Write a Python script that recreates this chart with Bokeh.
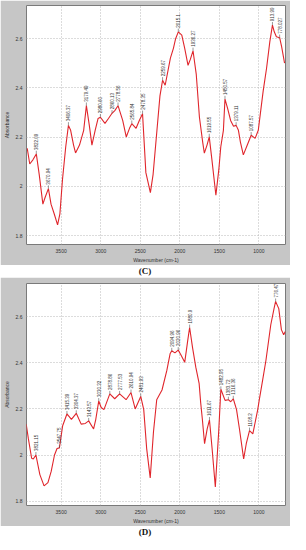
import math
from bokeh.plotting import figure
from bokeh.models import Range1d, FixedTicker, CustomJSTickFormatter, Div
from bokeh.layouts import column
from bokeh.embed import file_html
from bokeh.resources import INLINE
from bokeh.core.properties import value

# ---------------- data ----------------
x_ticks = [3500, 3000, 2500, 2000, 1500, 1000]
y_ticks = [1.8, 2.0, 2.2, 2.4, 2.6]

# Panel (C) spectrum
c_wn = [3929, 3897, 3857, 3814, 3777, 3731, 3702, 3661, 3628, 3587,
        3545, 3516, 3483, 3442, 3408, 3380, 3343, 3318, 3268, 3215,
        3181, 3144, 3111, 3070, 3033, 3004, 2946, 2902, 2857, 2822,
        2781, 2722, 2677, 2636, 2607, 2553, 2512, 2471, 2429, 2372,
        2338, 2289, 2251, 2218, 2185, 2119, 2081, 2053, 2019, 1975,
        1938, 1896, 1867, 1833, 1792, 1752, 1709, 1690, 1656, 1628,
        1594, 1544, 1507, 1482, 1449, 1429, 1395, 1358, 1321, 1288,
        1259, 1234, 1197, 1147, 1098, 1048, 1008, 974, 946, 903,
        862, 829, 806, 779, 738, 713, 676]
c_abs = [2.155, 2.091, 2.108, 2.132, 2.048, 1.928, 1.956, 1.991, 1.928, 1.888,
         1.844, 1.888, 2.028, 2.161, 2.248, 2.228, 2.168, 2.136, 2.168, 2.228,
         2.328, 2.248, 2.168, 2.228, 2.276, 2.281, 2.256, 2.276, 2.297, 2.308,
         2.328, 2.268, 2.201, 2.236, 2.255, 2.236, 2.268, 2.295, 2.056, 1.975,
         2.048, 2.228, 2.368, 2.431, 2.411, 2.521, 2.561, 2.600, 2.628, 2.615,
         2.561, 2.492, 2.516, 2.551, 2.455, 2.281, 2.176, 2.135, 2.168, 2.201,
         2.108, 1.964, 2.068, 2.161, 2.228, 2.355, 2.316, 2.268, 2.244, 2.248,
         2.228, 2.180, 2.128, 2.168, 2.208, 2.195, 2.228, 2.316, 2.388, 2.481,
         2.588, 2.655, 2.628, 2.608, 2.604, 2.568, 2.501]
c_peak_wn = [3814, 3661, 3408, 3181, 3004, 2857, 2781, 2607, 2471, 2218,
             2019, 1833, 1628, 1429, 1288, 1098, 829, 738]
c_peak_lbl = ["3822.09", "3670.94", "3406.37", "3179.49", "2980.60", "2860.13",
              "2778.56", "2565.84", "2478.35", "2259.67", "2015.1", "1936.27",
              "1619.55", "1450.57", "1379.11", "1087.57", "913.99", "778.027"]

# Panel (D) spectrum
d_wn = [3942, 3914, 3873, 3852, 3819, 3769, 3716, 3667, 3626, 3584,
        3552, 3522, 3481, 3427, 3370, 3309, 3247, 3194, 3152, 3090,
        3062, 3025, 2994, 2959, 2885, 2823, 2761, 2679, 2617, 2564,
        2494, 2456, 2419, 2374, 2333, 2292, 2225, 2164, 2123, 2102,
        2062, 2020, 1987, 1938, 1901, 1876, 1839, 1798, 1756, 1736,
        1715, 1687, 1654, 1625, 1592, 1551, 1509, 1481, 1428, 1386,
        1357, 1324, 1283, 1246, 1193, 1160, 1119, 1077, 1015, 995,
        953, 912, 850, 809, 789, 749, 716, 687, 666]
d_abs = [2.134, 2.070, 1.986, 1.983, 2.000, 1.915, 1.866, 1.880, 1.929, 2.000,
         2.028, 2.031, 2.127, 2.178, 2.155, 2.181, 2.134, 2.137, 2.148, 2.113,
         2.155, 2.234, 2.206, 2.197, 2.265, 2.244, 2.265, 2.240, 2.271, 2.200,
         2.254, 2.197, 2.028, 1.901, 2.100, 2.240, 2.282, 2.367, 2.439, 2.452,
         2.443, 2.455, 2.435, 2.402, 2.494, 2.553, 2.466, 2.381, 2.311, 2.226,
         2.155, 2.049, 2.113, 2.152, 2.028, 1.861, 2.099, 2.285, 2.237, 2.240,
         2.231, 2.244, 2.197, 2.113, 1.983, 2.049, 2.106, 2.092, 2.197, 2.240,
         2.325, 2.409, 2.565, 2.635, 2.666, 2.635, 2.544, 2.522, 2.536]
d_peak_wn = [3819, 3522, 3427, 3309, 3152, 3025, 2885, 2761, 2617, 2494,
             2102, 2020, 1876, 1625, 1481, 1386, 1324, 1119, 789]
d_peak_lbl = ["3821.15", "3547.75", "3415.39", "3304.37", "3143.57", "3030.32",
              "2878.86", "2777.53", "2610.94", "2481.93", "2094.96", "2020.96",
              "1880.9", "1611.67", "1482.95", "1383.72", "1316.36", "1108.2",
              "776.471"]

x_lim = (3938, 664)
c_ylim = (1.764, 2.735)
d_ylim = (1.781, 2.744)

FRAME = "#c6c6c6"
FONT = value("Liberation Sans")


def panel(wn, ab, pk_wn, pk_lbl, ylim, h, top, bottom, left, right):
    p = figure(width=290, height=h, output_backend="svg", toolbar_location=None,
               x_range=Range1d(*x_lim), y_range=Range1d(*ylim),
               min_border_top=top, min_border_bottom=bottom,
               min_border_left=left, min_border_right=right)
    p.border_fill_color = FRAME
    p.background_fill_color = "white"
    p.outline_line_color = "#7a7a7a"
    p.outline_line_width = 1

    for ax in (p.xaxis, p.yaxis):
        ax.major_tick_out = 0
        ax.major_tick_in = 0
        ax.minor_tick_out = 0
        ax.minor_tick_in = 0
        ax.axis_line_color = None
        ax.major_label_text_font_size = "5px"
        ax.major_label_text_color = "#333333"
        ax.major_label_text_font = "Liberation Sans"
        ax.axis_label_text_font_size = "5px"
        ax.axis_label_text_font_style = "normal"
        ax.axis_label_text_color = "#333333"
        ax.axis_label_text_font = "Liberation Sans"
    p.xaxis.ticker = FixedTicker(ticks=x_ticks)
    p.yaxis.ticker = FixedTicker(ticks=y_ticks)
    p.yaxis.formatter = CustomJSTickFormatter(code="return String(Math.round(tick*10)/10);")
    p.xaxis.axis_label = "Wavenumber (cm-1)"
    p.yaxis.axis_label = "Absorbance"
    p.xaxis.major_label_standoff = 4
    p.xaxis.axis_label_standoff = 1
    p.yaxis.major_label_standoff = 4
    p.yaxis.axis_label_standoff = 3

    p.xgrid.ticker = FixedTicker(ticks=x_ticks)
    p.ygrid.ticker = FixedTicker(ticks=y_ticks)
    for g in (p.xgrid, p.ygrid):
        g.grid_line_color = "#b8b8b8"
        g.grid_line_dash = "1 2"
        g.grid_line_width = 1

    p.line(wn, ab, line_color="#e0262c", line_width=1.1)

    lookup = dict(zip(wn, ab))
    pk_ab = [lookup[w] for w in pk_wn]
    p.segment(x0=pk_wn, y0=pk_ab, x1=pk_wn, y1=[a + 0.013 for a in pk_ab],
              line_color="#555555", line_width=0.6)
    p.text(x=pk_wn, y=pk_ab, text=pk_lbl, angle=math.pi / 2,
           text_align="left", text_baseline="middle", y_offset=-4,
           text_font_size="4.5px", text_color="#333333", text_font=FONT)
    return p


pc = panel(c_wn, c_abs, c_peak_wn, c_peak_lbl, c_ylim, 265, 5, 17, 22, 4)
pd_ = panel(d_wn, d_abs, d_peak_wn, d_peak_lbl, d_ylim, 249, 6, 16, 20, 5)

style = {"text-align": "center", "font-size": "9px", "font-family": "Liberation Serif",
         "font-weight": "bold", "color": "#111111", "width": "290px", "line-height": "12px"}
lab_c = Div(text="(C)", width=290, height=12, margin=(0, 0, 0, 0), styles=style)
lab_d = Div(text="(D)", width=290, height=12, margin=(0, 0, 0, 0), styles=style)

layout = column(pc, lab_c, pd_, lab_d, spacing=0)
open("out.html", "w").write(file_html(layout, INLINE))
